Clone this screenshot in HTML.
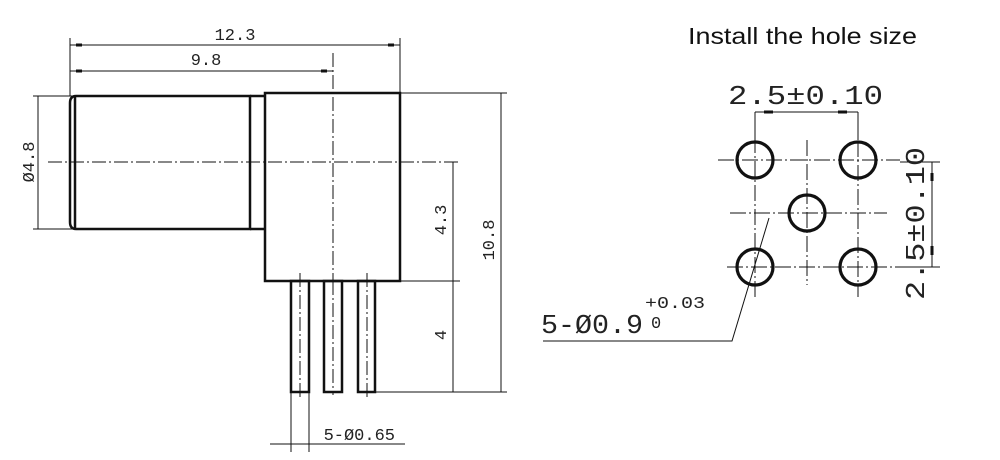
<!DOCTYPE html>
<html><head><meta charset="utf-8"><style>
html,body{margin:0;padding:0;background:#fff;}
svg{display:block;}
.m{font-family:"Liberation Mono","DejaVu Sans Mono",monospace;fill:#222;}
</style></head><body>
<svg width="1000" height="460" viewBox="0 0 1000 460" xmlns="http://www.w3.org/2000/svg">
<rect width="1000" height="460" fill="#fff"/>
<g stroke="#111" fill="none">
 <g stroke-width="1" stroke-dasharray="14,3,2,3">
  <line x1="48" y1="162" x2="460" y2="162"/>
  <line x1="333" y1="53" x2="333" y2="285"/>
  <line x1="300" y1="273" x2="300" y2="400"/>
  <line x1="333" y1="281" x2="333" y2="395"/>
  <line x1="367" y1="273" x2="367" y2="400"/>
 </g>
 <g stroke-width="1">
  <line x1="70" y1="38" x2="70" y2="96"/>
  <line x1="400" y1="38" x2="400" y2="93"/>
  <line x1="70" y1="45" x2="400" y2="45"/>
  <line x1="70" y1="71" x2="333" y2="71"/>
  <line x1="33" y1="96" x2="72" y2="96"/>
  <line x1="33" y1="229" x2="72" y2="229"/>
  <line x1="38" y1="96" x2="38" y2="229"/>
  <line x1="400" y1="93" x2="507" y2="93"/>
  <line x1="400" y1="281" x2="460" y2="281"/>
  <line x1="375" y1="392" x2="507" y2="392"/>
  <line x1="453" y1="162" x2="453" y2="392"/>
  <line x1="501" y1="93" x2="501" y2="392"/>
  <line x1="291" y1="392" x2="291" y2="452"/>
  <line x1="309" y1="392" x2="309" y2="452"/>
  <line x1="270" y1="444" x2="405" y2="444"/>
 </g>
 <g stroke-width="3">
  <line x1="76" y1="45" x2="82" y2="45"/><line x1="388" y1="45" x2="394" y2="45"/>
  <line x1="76" y1="71" x2="82" y2="71"/><line x1="321" y1="71" x2="327" y2="71"/>
 </g>
 <g stroke-width="2.5">
  <path d="M76 96 L250 96 L250 229 L76 229 Q70 229 70 222 L70 103 Q70 96 76 96 Z"/>
  <line x1="75" y1="96" x2="75" y2="229"/>
  <path d="M250 96 L265 96 M250 229 L265 229"/>
  <rect x="265" y="93" width="135" height="188"/>
  <rect x="291" y="281" width="18" height="111"/>
  <rect x="324" y="281" width="18" height="111"/>
  <rect x="358" y="281" width="17" height="111"/>
 </g>
</g>
<g class="m" font-size="17">
 <text x="235" y="40" text-anchor="middle">12.3</text>
 <text x="206" y="65" text-anchor="middle">9.8</text>
 <text x="395" y="440" text-anchor="end">5-Ø0.65</text>
 <text transform="translate(34,162) rotate(-90)" text-anchor="middle">Ø4.8</text>
 <text transform="translate(446,220) rotate(-90)" text-anchor="middle">4.3</text>
 <text transform="translate(446,335) rotate(-90)" text-anchor="middle">4</text>
 <text transform="translate(494,240) rotate(-90)" text-anchor="middle">10.8</text>
</g>

<text x="688" y="44" font-family="Liberation Sans, sans-serif" font-size="23" fill="#111" textLength="229" lengthAdjust="spacingAndGlyphs">Install the hole size</text>
<g stroke="#111" fill="none">
 <g stroke-width="1" stroke-dasharray="16,3,2,3">
  <line x1="718" y1="160" x2="900" y2="160"/>
  <line x1="730" y1="213" x2="887" y2="213"/>
  <line x1="727" y1="267" x2="900" y2="267"/>
  <line x1="755" y1="137" x2="755" y2="298"/>
  <line x1="807" y1="140" x2="807" y2="285"/>
  <line x1="858" y1="117" x2="858" y2="297"/>
 </g>
 <g stroke-width="1">
  <line x1="755" y1="112" x2="755" y2="140"/>
  <line x1="858" y1="112" x2="858" y2="140"/>
  <line x1="755" y1="112" x2="858" y2="112"/>
  <line x1="900" y1="162" x2="940" y2="162"/>
  <line x1="900" y1="267" x2="940" y2="267"/>
  <line x1="932" y1="162" x2="932" y2="267"/>
  <polyline points="543,341 732,341 769,218"/>
 </g>
 <g stroke-width="3">
  <line x1="764" y1="112" x2="773" y2="112"/><line x1="838" y1="112" x2="847" y2="112"/>
  <line x1="932" y1="173" x2="932" y2="181"/><line x1="932" y1="246" x2="932" y2="255"/>
 </g>
 <g stroke-width="3.2">
  <circle cx="755" cy="160" r="18"/>
  <circle cx="858" cy="160" r="18"/>
  <circle cx="807" cy="213" r="18"/>
  <circle cx="755" cy="267" r="18"/>
  <circle cx="858" cy="267" r="18"/>
 </g>
</g>
<g class="m" fill="#333">
 <text x="728" y="104" font-size="27" textLength="155" lengthAdjust="spacingAndGlyphs">2.5±0.10</text>
 <text transform="translate(924,300) rotate(-90)" font-size="27" textLength="153" lengthAdjust="spacingAndGlyphs">2.5±0.10</text>
 <text x="541" y="333" font-size="27" textLength="102" lengthAdjust="spacingAndGlyphs">5-Ø0.9</text>
 <text x="645" y="308" font-size="17" textLength="60" lengthAdjust="spacingAndGlyphs">+0.03</text>
 <text x="651" y="328" font-size="17">0</text>
</g>
</svg>
</body></html>
